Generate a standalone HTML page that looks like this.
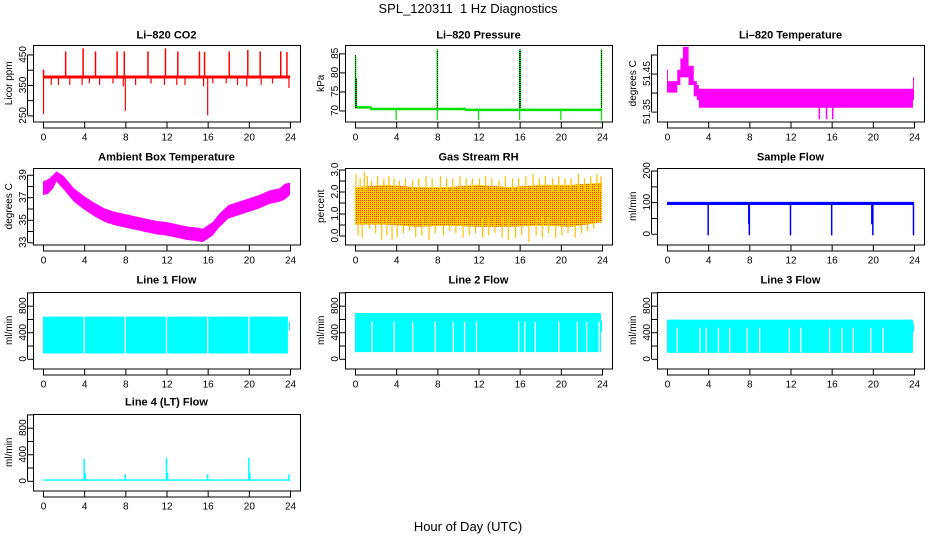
<!DOCTYPE html>
<html><head><meta charset="utf-8"><style>
html,body{margin:0;padding:0;background:#fff;}
svg{display:block;font-family:"Liberation Sans",Arial,sans-serif;}
</style></head><body>
<svg id="chart" width="936" height="540" viewBox="0 0 936 540" xmlns="http://www.w3.org/2000/svg">
<defs>
<pattern id="rhpat" width="2" height="2" patternUnits="userSpaceOnUse">
<rect width="2" height="2" fill="#ffd000"/><rect width="1" height="1" fill="#ff3000"/>
</pattern>
</defs>
<text x="468" y="13" text-anchor="middle" font-size="13">SPL_120311&#160;&#160;1 Hz Diagnostics</text>
<text x="468" y="531" text-anchor="middle" font-size="13">Hour of Day (UTC)</text>
</svg>
<script>
// ---- data ----
const xTicks=[0,4,8,12,16,20,24];
const co2Ticks=[250,300,350,400,450];
const co2TickLabels=["250","","350","","450"];
const co2BandHours=[0,24];
const co2Low=[371,371];
const co2High=[381,381];
const co2UpHours=[0.05,2.2,3.9,5.1,7.2,7.9,10.2,11.9,13.1,15.2,15.7,18.1,19.9,21.1,23.1,23.7];
const co2UpVals=[400,460,470,460,460,460,460,470,460,460,458,460,465,460,460,458];
const co2DownHours=[0.05,0.8,1.5,2.6,3.8,4.5,5.5,6.8,7.8,8.0,9.0,10.5,11.8,13.0,13.8,15.6,16.0,16.5,17.8,18.9,19.8,21.2,22.3,23.9];
const co2DownVals=[255,350,350,350,350,355,350,355,345,265,350,355,350,350,350,345,250,355,355,350,345,350,355,340];

const presTicks=[70,75,80,85];
const presTickLabels=["70","75","80","85"];
const presHours=[0.1,1.5,1.6,10.7,10.8,24];
const presLevel=[70.8,70.8,70.4,70.4,70.15,70.15];
const presUpHours=[0.05,0.12,8,16,16.05,23.95];
const presUpVals=[84.5,78.5,86,86,86,86];
const presDownHours=[4,8,12,16,20,23.95];
const presDownVals=[67.5,67.5,67.5,67.5,67.5,67.3];

const tempTicks=[51.35,51.40,51.45,51.50];
const tempTickLabels=["51.35","","51.45",""];
const tempHours=[0,0.1,0.35,1.0,1.3,1.55,2.1,2.6,2.9,3.1,23.9,24];
const tempLo=[51.40,51.40,51.40,51.42,51.44,51.44,51.42,51.39,51.38,51.36,51.38,51.38];
const tempHi=[51.46,51.43,51.43,51.46,51.49,51.52,51.47,51.43,51.42,51.41,51.44,51.44];
const tempDipHours=[14.8,15.5,16.1];
const tempDipVals=[51.33,51.33,51.33];

const ambTicks=[33,34,35,36,37,38,39];
const ambTickLabels=["33","","35","","37","","39"];
const ambHours=[0,0.5,1.0,1.3,2,3,4,5,6,7,8,9,10,11,12,13,14,15,15.5,16,16.5,17,18,19,20,21,22,23,23.5,24];
const ambLo=[37.2,37.3,37.8,38.4,37.7,36.6,35.9,35.3,34.8,34.5,34.3,34.1,33.9,33.7,33.6,33.4,33.2,33.1,33.0,33.3,33.6,34.2,35.1,35.4,35.7,36.0,36.4,36.6,36.8,37.2];
const ambHi=[38.4,38.6,39.0,39.3,38.9,37.8,37.1,36.5,36.0,35.7,35.5,35.3,35.1,34.9,34.8,34.6,34.4,34.3,34.2,34.5,34.8,35.4,36.3,36.6,36.9,37.2,37.6,37.8,38.2,38.3];

const rhTicks=[0,0.5,1,1.5,2,2.5,3];
const rhTickLabels=["0.0","","1.0","","2.0","","3.0"];
const rhBandHours=[0,3,6,9,12,15,18,21,24];
const rhLo=[0.5,0.5,0.4,0.45,0.4,0.4,0.45,0.4,0.6];
const rhHi=[2.2,2.3,2.2,2.2,2.3,2.2,2.3,2.3,2.4];
const rhUpHours=[0.1,0.5,0.9,1.2,1.6,2.2,2.8,3.3,3.8,4.3,4.9,5.6,6.2,6.9,7.5,8.3,8.9,9.5,10.2,10.8,11.4,12.1,12.7,13.3,14.0,14.6,15.3,15.9,16.6,17.3,17.9,18.5,19.2,19.8,20.4,21.0,21.7,22.3,22.9,23.5,23.9];
const rhUpVals=[2.8,2.6,2.9,2.7,2.5,2.7,2.6,2.7,2.6,2.5,2.6,2.5,2.6,2.7,2.6,2.7,2.6,2.6,2.7,2.6,2.6,2.6,2.7,2.6,2.5,2.7,2.6,2.6,2.7,2.8,2.6,2.7,2.6,2.7,2.6,2.6,2.8,2.6,2.7,2.8,2.7];
const rhDownHours=[0.3,0.7,1.4,2.0,2.6,3.1,3.6,4.1,4.7,5.3,5.9,6.5,7.2,7.8,8.6,9.2,9.8,10.5,11.1,11.7,12.4,13.0,13.6,14.3,14.9,15.6,16.2,16.9,17.6,18.2,18.8,19.5,20.1,20.7,21.4,22.0,22.6,23.2];
const rhDownVals=[0.0,-0.1,0.3,0.1,-0.2,0.0,-0.2,-0.1,0.1,0.2,-0.1,0.0,-0.2,0.1,0.0,0.2,0.1,-0.1,0.0,0.1,-0.1,0.0,0.1,-0.1,-0.2,-0.1,0.0,-0.3,0.0,-0.1,0.1,-0.1,0.0,0.1,-0.1,0.1,0.2,0.3];

const sfTicks=[0,50,100,150,200];
const sfTickLabels=["0","","100","","200"];
const sfBandHours=[0,24];
const sfLo=[91,91];
const sfHi=[101,101];
const sfDropHours=[4,8,12,16,20,23.95,7.95,19.9];
const sfDropVals=[-5,-5,-5,-5,-5,-5,30,30];

const lfTicks=[0,200,400,600,800,1000];
const lfTickLabels=["0","","400","","800",""];
const l1BandHours=[0,23.8];
const l1Lo=[80,80];
const l1Hi=[635,635];
const l1GapHours=[4,8,12,16,20];
const l1GapTop=[635,635,635,635,635];
const l1EndHours=[23.9,24];
const l1EndLo=[430,430];
const l1EndHi=[560,560];

const l2BandHours=[0,23.9];
const l2Lo=[100,100];
const l2Hi=[690,690];
const l2GapHours=[1.65,3.8,5.6,7.8,9.55,10.65,11.8,15.9,16.5,17.5,19.8,21.6,22.5,23.7];
const l2GapTop=[560,560,560,560,560,560,560,560,560,560,560,560,560,560];
const l2EndHours=[23.9,24];
const l2EndLo=[400,400];
const l2EndHi=[580,580];

const l3BandHours=[0,23.9];
const l3Lo=[90,90];
const l3Hi=[590,590];
const l3GapHours=[1.0,3.2,3.8,5.0,6.1,7.8,9.0,11.9,13.0,15.8,17.0,18.1,19.8,21.0];
const l3GapTop=[470,470,470,470,470,470,470,470,470,470,470,470,470,470];
const l3EndHours=[23.9,24];
const l3EndLo=[400,400];
const l3EndHi=[530,530];

const l4BandHours=[0,24];
const l4Lo=[0,0];
const l4Hi=[22,22];
const l4SpikeHours=[4,4.1,8,12,12.1,16,20,20.1,23.9];
const l4SpikeVals=[330,120,100,350,120,100,350,120,100];

// ---- drawing ----
const NS="http://www.w3.org/2000/svg";
const svg=document.getElementById('chart');
const rowTops=[45,168,292,414];
const titleYs=[34.5,156.5,279.5,401.5];
const H=76.5;
let clipId=0;
function mk(tag,parent){const e=document.createElementNS(NS,tag);parent.appendChild(e);return e;}

function makePanel(name,col,row,title,ylab,yMin,yMax,ticks,tickLabels){
  const left=33+312*col, right=300+312*col, top=rowTops[row], bottom=top+H;
  const x0=43+312*col, x1=290+312*col;
  const x=h=>x0+h/24*(x1-x0);
  const y=v=>bottom-(v-yMin)/(yMax-yMin)*H;
  const g=mk('g',svg);
  
  
  clipId++;
  const cp=mk('clipPath',g);cp.setAttribute('id','cp'+clipId);
  const cr=mk('rect',cp);cr.setAttribute('x',left);cr.setAttribute('y',top);cr.setAttribute('width',right-left);cr.setAttribute('height',H);
  const data=mk('g',g);data.setAttribute('clip-path','url(#cp'+clipId+')');
  
  
  const t=mk('text',g);t.textContent=title;
  t.setAttribute('x',(left+right)/2);t.setAttribute('y',titleYs[row]+4);
  t.setAttribute('text-anchor','middle');t.setAttribute('font-size','11');t.setAttribute('font-weight','bold');
  
  
  const box=mk('rect',g);box.setAttribute('x',left+0.5);box.setAttribute('y',top+0.5);box.setAttribute('width',right-left);box.setAttribute('height',H);
  box.setAttribute('fill','none');box.setAttribute('stroke','#000');box.setAttribute('stroke-width','1');
  
  
  const xa=mk('g',g);
  
  
  xTicks.forEach(h=>{
    const l=mk('line',xa);l.setAttribute('x1',x(h)+0.5);l.setAttribute('x2',x(h)+0.5);l.setAttribute('y1',bottom);l.setAttribute('y2',bottom+6);l.setAttribute('stroke','#000');
    const tt=mk('text',xa);tt.textContent=String(h);tt.setAttribute('x',x(h)+0.5);tt.setAttribute('y',bottom+19);
    tt.setAttribute('text-anchor','middle');tt.setAttribute('font-size','10');
  });
  const ya=mk('g',g);
  
  
  const al=mk('line',ya);al.setAttribute('x1',left-5.5);al.setAttribute('x2',left-5.5);al.setAttribute('y1',y(ticks[0]));al.setAttribute('y2',y(ticks[ticks.length-1]));al.setAttribute('stroke','#000');
  ticks.forEach((v,i)=>{
    const l=mk('line',ya);l.setAttribute('x1',left-5.5);l.setAttribute('x2',left);l.setAttribute('y1',y(v)+0.5);l.setAttribute('y2',y(v)+0.5);l.setAttribute('stroke','#000');
    if(tickLabels[i]){
      const tt=mk('text',ya);tt.textContent=tickLabels[i];
      tt.setAttribute('transform','translate('+(left-7)+','+y(v)+') rotate(-90)');
      tt.setAttribute('text-anchor','middle');tt.setAttribute('font-size','10');
    }
  });
  const xl=mk('line',xa);xl.setAttribute('x1',x(0));xl.setAttribute('x2',x(24)+1);xl.setAttribute('y1',bottom+6.5);xl.setAttribute('y2',bottom+6.5);xl.setAttribute('stroke','#000');
  const yl=mk('text',g);yl.textContent=ylab;
  yl.setAttribute('transform','translate('+(left-21)+','+((top+bottom)/2)+') rotate(-90)');
  yl.setAttribute('text-anchor','middle');yl.setAttribute('font-size','10');
  
  
  return {x,y,data};
}
function band(p,hrs,lo,hi,fill,step){
  let pts=[];
  for(let i=0;i<hrs.length;i++){
    if(step&&i<hrs.length-1){pts.push([p.x(hrs[i]),p.y(hi[i])],[p.x(hrs[i+1]),p.y(hi[i])]);}
    else pts.push([p.x(hrs[i]),p.y(hi[i])]);
  }
  for(let i=hrs.length-1;i>=0;i--){
    if(step&&i<hrs.length-1){pts.push([p.x(hrs[i+1]),p.y(lo[i])],[p.x(hrs[i]),p.y(lo[i])]);}
    else pts.push([p.x(hrs[i]),p.y(lo[i])]);
  }
  const pg=mk('polygon',p.data);pg.setAttribute('points',pts.map(a=>a.join(',')).join(' '));pg.setAttribute('fill',fill);
  
  
  return pg;
}
function spikes(p,hrs,fromV,vals,color,w,dash){
  hrs.forEach((h,i)=>{
    const f=Array.isArray(fromV)?fromV[i]:fromV;
    const l=mk('line',p.data);l.setAttribute('x1',p.x(h));l.setAttribute('x2',p.x(h));
    l.setAttribute('y1',p.y(f));l.setAttribute('y2',p.y(vals[i]));l.setAttribute('stroke',color);l.setAttribute('stroke-width',w);
    if(dash)l.setAttribute('stroke-dasharray',dash);
    
    
  });
}
function stepLine(p,hrs,vals,color,w){
  const pl=mk('polyline',p.data);
  pl.setAttribute('points',hrs.map((h,i)=>p.x(h)+','+p.y(vals[i])).join(' '));
  pl.setAttribute('fill','none');pl.setAttribute('stroke',color);pl.setAttribute('stroke-width',w);
  
  
}

let p=makePanel('co2',0,0,'Li\u2013820 CO2','Licor ppm',230,481,co2Ticks,co2TickLabels);
band(p,co2BandHours,co2Low,co2High,'#ff0000');
spikes(p,co2UpHours,376,co2UpVals,'#ff0000',1.5);
spikes(p,co2DownHours,376,co2DownVals,'#ff0000',1.2);

p=makePanel('pressure',1,0,'Li\u2013820 Pressure','kPa',67.1,87.2,presTicks,presTickLabels);
stepLine(p,presHours,presLevel,'#00e000',2.5);
spikes(p,presUpHours,70.6,presUpVals,'#00e000',1.5);
spikes(p,presUpHours,70.6,presUpVals,'#000',1,'1,1');
spikes(p,presDownHours,70.4,presDownVals,'#00e000',1.2);

p=makePanel('li820-temp',2,0,'Li\u2013820 Temperature','degrees C',51.324,51.525,tempTicks,tempTickLabels);
band(p,tempHours,tempLo,tempHi,'#ff00ff',true);
spikes(p,tempDipHours,51.37,tempDipVals,'#ff00ff',1.5);

p=makePanel('ambient-temp',0,1,'Ambient Box Temperature','degrees C',32.8,39.6,ambTicks,ambTickLabels);
band(p,ambHours,ambLo,ambHi,'#ff00ff');

p=makePanel('rh',1,1,'Gas Stream RH','percent',-0.41,3.07,rhTicks,rhTickLabels);
band(p,rhBandHours,rhLo,rhHi,'url(#rhpat)');
spikes(p,rhUpHours,2.0,rhUpVals,'#ffc000',1.2);
spikes(p,rhDownHours,0.8,rhDownVals,'#ffc000',1.2);

p=makePanel('sample-flow',2,1,'Sample Flow','ml/min',-34,208,sfTicks,sfTickLabels);
band(p,sfBandHours,sfLo,sfHi,'#0000ff');
spikes(p,sfDropHours,95,sfDropVals,'#0000ff',1.5);

function lineFlow(name,col,row,title,bh,lo,hi,gh,gt,eh,elo,ehi){
  const q=makePanel(name,col,row,title,'ml/min',-146,1006,lfTicks,lfTickLabels);
  band(q,bh,lo,hi,'#00ffff');
  spikes(q,gh,lo[0],gt,'#ffffff',1.3);
  band(q,eh,elo,ehi,'#00ffff');
}
lineFlow('line1-flow',0,2,'Line 1 Flow',l1BandHours,l1Lo,l1Hi,l1GapHours,l1GapTop,l1EndHours,l1EndLo,l1EndHi);
lineFlow('line2-flow',1,2,'Line 2 Flow',l2BandHours,l2Lo,l2Hi,l2GapHours,l2GapTop,l2EndHours,l2EndLo,l2EndHi);
lineFlow('line3-flow',2,2,'Line 3 Flow',l3BandHours,l3Lo,l3Hi,l3GapHours,l3GapTop,l3EndHours,l3EndLo,l3EndHi);
p=makePanel('line4-flow',0,3,'Line 4 (LT) Flow','ml/min',-146,1006,lfTicks,lfTickLabels);
band(p,l4BandHours,l4Lo,l4Hi,'#00ffff');
spikes(p,l4SpikeHours,0,l4SpikeVals,'#00ffff',1.5);
</script>
</body></html>
